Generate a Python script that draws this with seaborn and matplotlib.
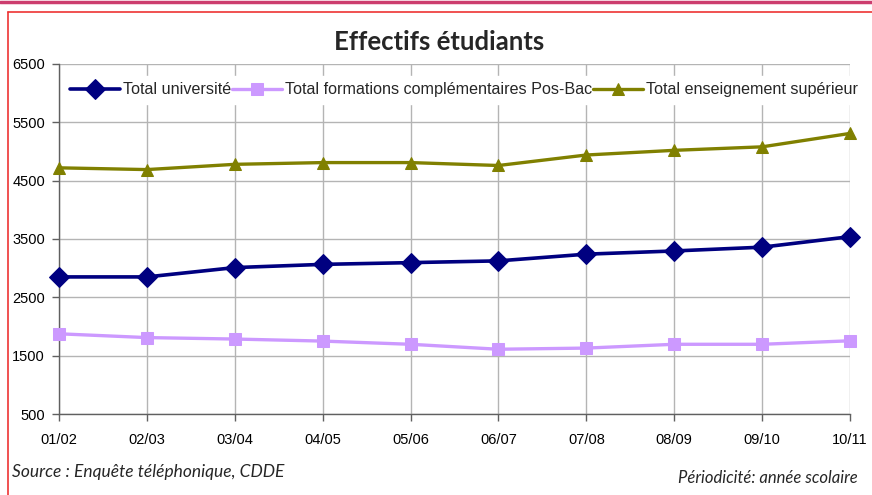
import matplotlib
matplotlib.use("Agg")
import matplotlib.pyplot as plt
import seaborn as sns
import pandas as pd
from matplotlib.lines import Line2D

# Data
years = ["01/02", "02/03", "03/04", "04/05", "05/06", "06/07", "07/08", "08/09", "09/10", "10/11"]
universite = [2850, 2850, 3010, 3065, 3095, 3125, 3240, 3295, 3360, 3540]
pos_bac = [1875, 1810, 1785, 1750, 1695, 1610, 1630, 1695, 1695, 1755]
superieur = [4720, 4690, 4780, 4810, 4810, 4760, 4940, 5020, 5080, 5310]
y_ticks = [500, 1500, 2500, 3500, 4500, 5500, 6500]

series = [
    ("Total université", universite, "#000080", "D", 10, 2.6),
    ("Total formations complémentaires Pos-Bac", pos_bac, "#cc99ff", "s", 9, 2.4),
    ("Total enseignement supérieur", superieur, "#808000", "^", 9, 2.4),
]

sns.set_theme(style="white")
plt.rcParams['font.family'] = ['Liberation Sans', 'DejaVu Sans']

fig = plt.figure(figsize=(8.72, 4.95), dpi=100)
ax = fig.add_axes([59 / 872, 1 - 414 / 495, 791 / 872, 350 / 495])

x_pos = list(range(len(years)))
for name, vals, color, marker, ms, lw in series:
    df = pd.DataFrame({"x": x_pos, "y": vals})
    sns.lineplot(data=df, x="x", y="y", ax=ax, color=color, marker=marker,
                 markersize=ms, linewidth=lw, markeredgecolor=color,
                 label=name, sort=False, zorder=3, clip_on=False)

ax.set_xlim(0, len(years) - 1)
ax.set_ylim(500, 6500)
ax.set_xticks(x_pos)
ax.set_xticklabels(years)
ax.set_yticks(y_ticks)
ax.set_xlabel("")
ax.set_ylabel("")
ax.grid(True, color="#b4b4b4", linewidth=1.0, zorder=0)
ax.set_axisbelow(True)
for s in ["top", "right"]:
    ax.spines[s].set_visible(False)
for s in ["left", "bottom"]:
    ax.spines[s].set_color("#606060")
    ax.spines[s].set_linewidth(1.0)
ax.tick_params(axis="both", bottom=True, left=True, direction="out", length=5,
               width=1, color="#606060", labelsize=10.5, labelcolor="black", pad=5)
ax.tick_params(axis="x", pad=9)

leg = ax.legend(loc="center", bbox_to_anchor=(0.512, 0.926), ncol=3,
                fontsize=11.6, frameon=True, fancybox=False, framealpha=1,
                edgecolor="white", handlelength=3.1, handletextpad=0.15,
                columnspacing=0.1, borderpad=0.4)
leg.set_zorder(5)

fig.text(0.504, 0.915, "Effectifs étudiants", ha="center", va="center",
         fontsize=18.5, fontweight="bold", family=["Lato", "DejaVu Sans"])
fig.text(12 / 872, 1 - 472 / 495, "Source : Enquête téléphonique, CDDE", ha="left",
         va="center", fontsize=12.5, style="italic", family=["Lato", "DejaVu Sans"])
fig.text(858 / 872, 1 - 478 / 495, "Périodicité: année scolaire", ha="right",
         va="center", fontsize=12, style="italic", family=["Lato", "DejaVu Sans"])

# decorative frame lines
fig.add_artist(Line2D([0, 1], [1 - 1.5 / 495, 1 - 1.5 / 495], color="#cc3d6e", linewidth=2.5))
fig.add_artist(Line2D([8 / 872, 1], [1 - 11.5 / 495, 1 - 11.5 / 495], color="#ee3333", linewidth=1.2))
fig.add_artist(Line2D([8 / 872, 8 / 872], [0, 1 - 11.5 / 495], color="#ee3333", linewidth=1.2))

fig.savefig("out.png", dpi=100)
